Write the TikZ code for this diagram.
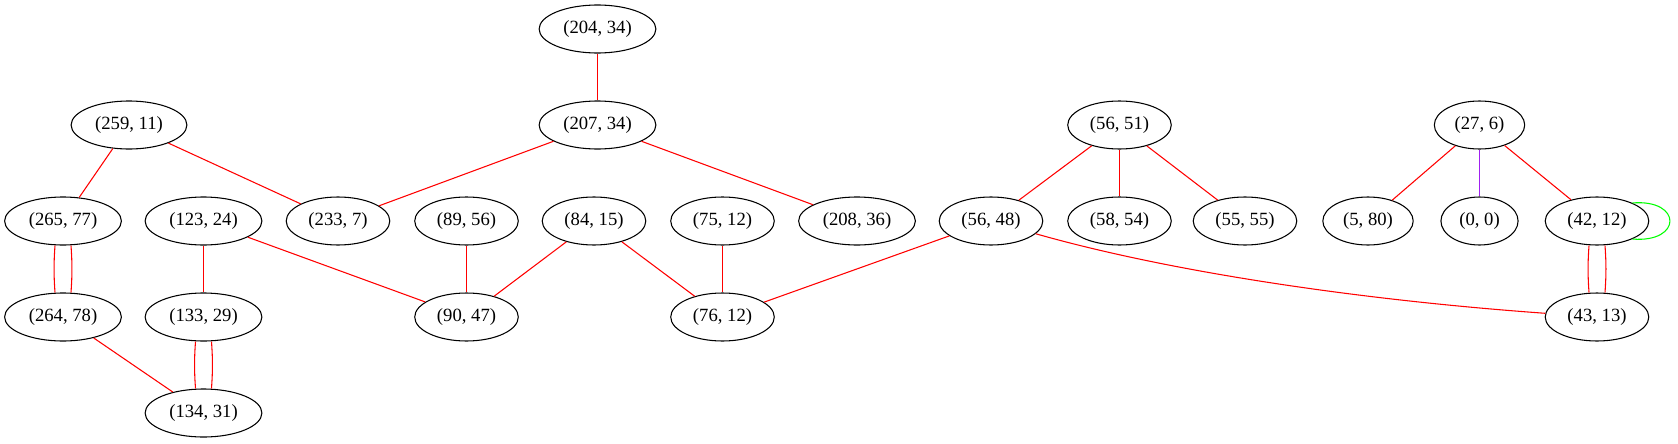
\documentclass[tikz,border=0pt]{standalone}
\usepackage{fontspec}
\setmainfont{Liberation Serif}
\usepackage{tikz}
\usetikzlibrary{shapes,positioning}
\tikzset{
    pair node/.style={ellipse, draw, black, line width=0.8pt, inner xsep=5.3pt, inner ysep=1pt,
        minimum height=36pt, font=\fontsize{14}{16}\selectfont},
    red edge/.style={draw=red, line width=0.8pt},
    purple edge/.style={draw={rgb,255:red,160;green,32;blue,240}, line width=0.8pt},
    loop edge/.style={draw={rgb,255:red,0;green,255;blue,0}, line width=0.8pt}
}
\begin{document}
\begin{tikzpicture}[x=0.75pt, y=-0.75pt]
	\useasboundingbox (0,0) rectangle (1678,443);
		\begin{scope}[every node/.style={pair node}]
			% rank 1
			\node (n204) at (597.5,29) {(204, 34)};
			% rank 2
			\node (n259) at (129,125) {(259, 11)};
			\node (n207) at (597.5,125) {(207, 34)};
			\node (n5651) at (1119.5,125) {(56, 51)};
			\node (n276) at (1479.5,125) {(27, 6)};
			% rank 3
			\node (n26577) at (63,221) {(265, 77)};
			\node (n12324) at (203.5,221) {(123, 24)};
			\node (n2337) at (338,221) {(233, 7)};
			\node (n8956) at (466.5,221) {(89, 56)};
			\node (n8415) at (594,221) {(84, 15)};
			\node (n7512) at (722.5,221) {(75, 12)};
			\node (n20836) at (857,221) {(208, 36)};
			\node (n5648) at (991,221) {(56, 48)};
			\node (n5854) at (1119.5,221) {(58, 54)};
			\node (n5555) at (1245,221) {(55, 55)};
			\node (n580) at (1368,221) {(5, 80)};
			\node (n00) at (1479.5,221) {(0, 0)};
			\node (n4212) at (1597,221) {(42, 12)};
			% rank 4
			\node (n26478) at (63,317) {(264, 78)};
			\node (n13329) at (203.5,317) {(133, 29)};
			\node (n9047) at (466.5,317) {(90, 47)};
			\node (n7612) at (722.5,317) {(76, 12)};
			\node (n4313) at (1597,317) {(43, 13)};
			% rank 5
			\node (n13431) at (203.5,413) {(134, 31)};
		\end{scope}
		\begin{scope}[red edge]
			\draw (n204) -- (n207);
			\draw (n259) -- (n26577);
			\draw (n259) -- (n2337);
			\draw (n207) -- (n2337);
			\draw (n207) -- (n20836);
			\draw (n5651) -- (n5648);
			\draw (n5651) -- (n5854);
			\draw (n5651) -- (n5555);
			\draw (n276) -- (n580);
			\draw (n276) -- (n4212);
			\draw ([xshift=-6pt]n26577.south) to[bend right=4] ([xshift=-6pt]n26478.north);
			\draw ([xshift=6pt]n26577.south) to[bend left=4] ([xshift=6pt]n26478.north);
			\draw (n12324) -- (n13329);
			\draw (n12324) -- (n9047);
			\draw (n8956) -- (n9047);
			\draw (n8415) -- (n9047);
			\draw (n8415) -- (n7612);
			\draw (n7512) -- (n7612);
			\draw (n5648) -- (n7612);
			\draw (n5648) .. controls (1170,272) and (1360,300) .. (n4313);
			\draw ([xshift=-6pt]n4212.south) to[bend right=4] ([xshift=-6pt]n4313.north);
			\draw ([xshift=6pt]n4212.south) to[bend left=4] ([xshift=6pt]n4313.north);
			\draw (n26478) -- (n13431);
			\draw ([xshift=-6pt]n13329.south) to[bend right=4] ([xshift=-6pt]n13431.north);
			\draw ([xshift=6pt]n13329.south) to[bend left=4] ([xshift=6pt]n13431.north);
		\end{scope}
		\draw[purple edge] (n276) -- (n00);
		\draw[loop edge] (n4212.27) .. controls +(50,-4) and +(50,4) .. (n4212.-27);
	\end{tikzpicture}
\end{document}
